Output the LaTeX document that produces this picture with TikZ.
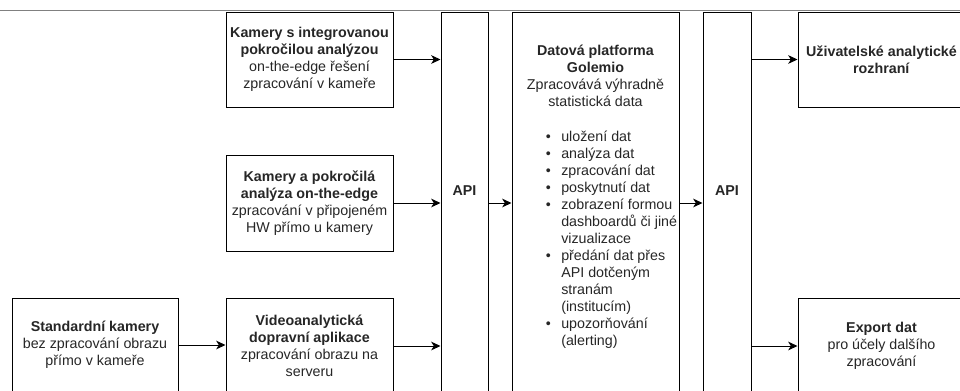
\documentclass[tikz,border=0pt]{standalone}
\usepackage{fontspec}
\setmainfont{Liberation Sans}
\usetikzlibrary{arrows.meta,calc}

\begin{document}
\begin{tikzpicture}[x=0.75pt,y=-0.75pt,
    every node/.style={text=black!85,font=\fontsize{10.7}{12.7}\selectfont},
    box/.style={draw=black,line width=0.75pt,inner sep=0pt,align=center,minimum width=125.25pt},
    tall/.style={draw=black,line width=0.75pt,inner sep=0pt,anchor=north,minimum height=300pt},
    arr/.style={-{Stealth[length=7pt,width=6.5pt,inset=2pt]},line width=0.75pt}]
\useasboundingbox (0,0) rectangle (960,390);
\clip (0,0) rectangle (960,390);
\draw[black!50,line width=0.75pt] (0,10) -- (960,10);
% sources
\node[box,minimum height=71.25pt] (cam1) at (309.5,59.5) {\textbf{Kamery s integrovanou}\\\textbf{pokročilou analýzou}\\on-the-edge řešení\\zpracování v kameře};
\node[box,minimum height=72pt] (cam2) at (309.5,203) {\textbf{Kamery a pokročilá}\\\textbf{analýza on-the-edge}\\zpracování v připojeném\\HW přímo u kamery};
\node[box,minimum width=124.5pt,minimum height=70.5pt] (std) at (95,345) {\textbf{Standardní kamery}\\bez zpracování obrazu\\přímo v kameře};
\node[box,minimum height=72pt] (video) at (309.5,346) {\textbf{Videoanalytická}\\\textbf{dopravní aplikace}\\zpracování obrazu na\\serveru};
% platform
\node[tall,minimum width=35.25pt] (api1) at (464.5,12) {};
\node[font=\fontsize{10.7}{12.7}\selectfont\bfseries] (api1lbl) at (464.5,191) {API};
\node[tall,minimum width=125.25pt] (dat) at (595.5,12) {};
\node[align=center] (dathd) at (595.5,76) {\textbf{Datová platforma}\\\textbf{Golemio}\\Zpracovává výhradně\\statistická data};
\node[anchor=north west,inner sep=0pt] (datlist) at (545.5,129) {\fontsize{10.7}{12.75}\selectfont
  \begin{tabular}{@{}l@{\hspace{7.9pt}}l@{}}
  • & uložení dat\\
  • & analýza dat\\
  • & zpracování dat\\
  • & poskytnutí dat\\
  • & zobrazení formou\\
    & dashboardů či jiné\\
    & vizualizace\\
  • & předání dat přes\\
    & API dotčeným\\
    & stranám\\
    & (institucím)\\
  • & upozorňování\\
    & (alerting)
  \end{tabular}};
\node[tall,minimum width=36pt] (api2) at (727,12) {};
\node[font=\fontsize{10.7}{12.7}\selectfont\bfseries] (api2lbl) at (727,191) {API};
% outputs
\node[box,minimum height=71.25pt] (user) at (881.5,59.5) {\textbf{Uživatelské analytické}\\\textbf{rozhraní}};
\node[box,minimum height=72pt] (export) at (881.5,346) {\textbf{Export dat}\\pro účely dalšího\\zpracování};
% arrows
\draw[arr] (cam1.east) -- (cam1.east -| api1.west);
\draw[arr] (cam2.east) -- (cam2.east -| api1.west);
\draw[arr] (std.east) -- (std.east -| video.west);
\draw[arr] (video.east) -- (video.east -| api1.west);
\draw[arr] (api1.east |- cam2.east) -- (dat.west |- cam2.east);
\draw[arr] (dat.east |- cam2.east) -- (api2.west |- cam2.east);
\draw[arr] (api2.east |- user.west) -- (user.west);
\draw[arr] (api2.east |- export.west) -- (export.west);
\end{tikzpicture}
\end{document}
